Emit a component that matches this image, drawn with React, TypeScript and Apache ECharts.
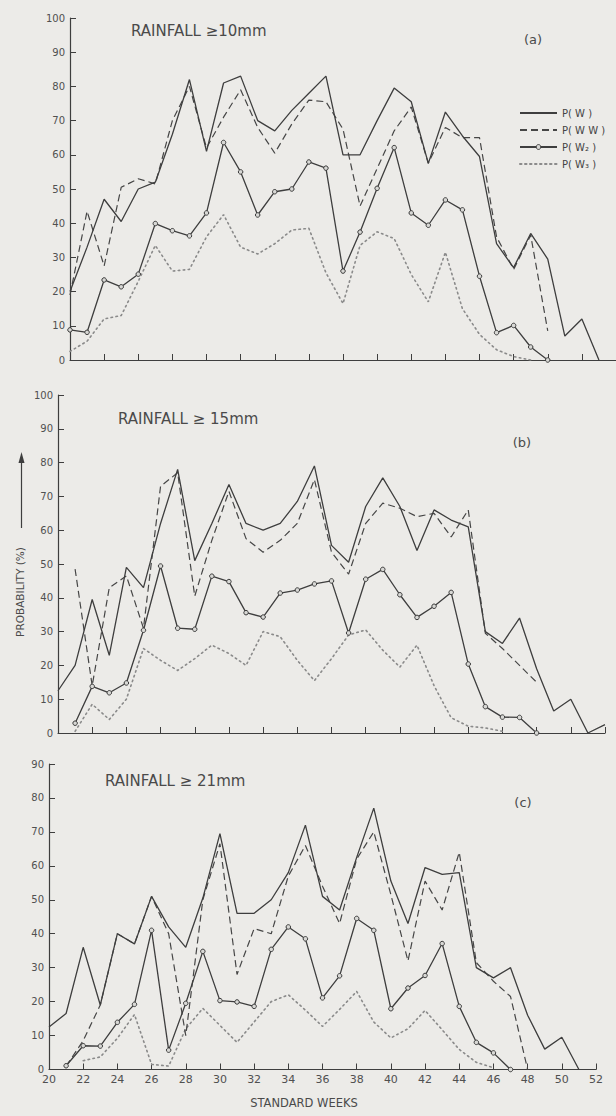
import React, { useEffect, useRef } from "react";
import * as echarts from "echarts";

// Standard weeks (x values)
const WEEKS = [20, 21, 22, 23, 24, 25, 26, 27, 28, 29, 30, 31, 32, 33, 34, 35, 36, 37, 38, 39, 40, 41, 42, 43, 44, 45, 46, 47, 48, 49, 50, 51, 52];

const SERIES_NAMES = ["P( W )", "P( W W )", "P( W\u2082 )", "P( W\u2083 )"];
const PANEL_TITLES = ["RAINFALL \u226510mm", "RAINFALL \u2265 15mm", "RAINFALL \u2265 21mm"];
const PANEL_TAGS = ["(a)", "(b)", "(c)"];
const Y_MAX = [100, 100, 90];

// (a) Rainfall >= 10 mm
const A_PW = [20, 33, 47, 40.5, 50, 52, 66, 82, 61, 81, 83, 70, 67, 73, 78, 83, 60, 60, 70, 79.5, 75.5, 57.5, 72.5, 65.5, 59.5, 34, 27, 37, 29.5, 7, 12, 0, null];
const A_PWW = [19, 43.5, 27.5, 50.5, 53, 51.5, 70, 80, 62, 71, 79, 68, 60.5, 69, 76, 75.5, 67.5, 45, 56, 67, 74, 57.5, 68, 65, 65, 36, 26.5, 36.5, 8.5, null, null, null, null];
const A_PW2 = [8.8, 8.1, 23.4, 21.4, 25.1, 39.9, 37.8, 36.3, 43, 63.6, 55, 42.4, 49.2, 50, 57.9, 56.1, 26, 37.4, 50.2, 62.1, 43, 39.4, 46.8, 43.9, 24.5, 8, 10.1, 3.8, 0, null, null, null, null];
const A_PW3 = [2.5, 5.5, 12, 13, 23, 33.5, 26, 26.5, 36, 42.5, 33, 31, 34, 38, 38.5, 25.5, 16.5, 33.5, 37.5, 35.5, 25, 17, 31.5, 15, 7.5, 3, 1, 0, null, null, null, null, null];

// (b) Rainfall >= 15 mm
const B_PW = [12.5, 20, 39.5, 23, 49, 43, 62, 78, 51, 62, 73.5, 62, 60, 62, 68.5, 79, 55.5, 50.5, 67, 75.5, 67, 54, 66, 63, 61, 30, 26.5, 34, 19, 6.5, 10, 0, 2.5];
const B_PWW = [null, 48.5, 14, 43, 46.5, 31, 73, 77, 40.5, 57, 71.5, 57.5, 53.5, 57, 62, 75, 53.5, 47, 62, 68, 66.5, 64, 65, 58, 66, 29.5, 25, 20, 15, null, null, null, null];
const B_PW2 = [null, 2.9, 13.8, 11.9, 14.8, 30.4, 49.4, 31, 30.7, 46.4, 44.8, 35.6, 34.3, 41.4, 42.3, 44.1, 45, 29.6, 45.5, 48.4, 40.9, 34.2, 37.5, 41.6, 20.4, 7.8, 4.7, 4.6, 0, null, null, null, null];
const B_PW3 = [null, 0.5, 8.5, 4, 10, 25, 21.5, 18.5, 22, 26, 23.5, 20, 30, 28.5, 21.5, 15.5, 22, 29, 30.5, 24.5, 19.5, 26, 14, 4.5, 2, 1.5, 0.5, null, null, null, null, null, null];

// (c) Rainfall >= 21 mm
const C_PW = [12.5, 16.5, 36, 19, 40, 37, 51, 42, 36, 50.5, 69.5, 46, 46, 50, 58, 72, 51, 47, 62.5, 77, 55.5, 43, 59.5, 57.5, 58, 30, 27, 30, 16, 6, 9.5, 0, null];
const C_PWW = [null, 1, 8.5, 19, 40, 37, 51, 40, 10, 50, 66.5, 28, 41.5, 40, 57, 66, 54, 43, 62, 70, 51.5, 32, 55.5, 47, 64, 31.5, 26, 21.5, 0, null, null, null, null];
const C_PW2 = [null, 1.1, 7, 6.9, 13.9, 19.2, 41, 5.7, 19.5, 34.8, 20.3, 19.9, 18.6, 35.4, 42, 38.5, 21.1, 27.6, 44.5, 41, 17.9, 24, 27.7, 37.1, 18.6, 8, 4.9, 0, null, null, null, null, null];
const C_PW3 = [null, null, 2.6, 3.7, 9.2, 16.2, 1.5, 1, 12, 18, 13, 8, 14, 20, 22, 17.5, 12.7, 17.7, 23, 14, 9.3, 12, 17.4, 11.7, 5.9, 2.1, 0.5, null, null, null, null, null, null];

const PANELS = [
  [A_PW, A_PWW, A_PW2, A_PW3],
  [B_PW, B_PWW, B_PW2, B_PW3],
  [C_PW, C_PWW, C_PW2, C_PW3],
];

const toPairs = (vals: (number | null)[]) =>
  WEEKS.map((w, i) => [w, vals[i]]).filter((p) => p[1] !== null);

const INK = "#3e3e3e";
const TXT = "#505050";
const BG = "#ecebe8";
const FONT = "DejaVu Sans";

export default function App() {
  const ref = useRef<HTMLDivElement>(null);

  useEffect(() => {
    if (!ref.current) return;
    const chart = echarts.init(ref.current, null, { renderer: "svg" });

    const grids = [
      { left: 70, top: 18, width: 549, height: 342 },
      { left: 58, top: 395, width: 547, height: 338 },
      { left: 49, top: 764, width: 547, height: 305.5 },
    ];

    const seriesStyles: any[] = [
      { symbol: "none", lineStyle: { color: INK, width: 1.3, type: "solid" }, itemStyle: { color: INK }, z: 4 },
      { symbol: "none", lineStyle: { color: "#464646", width: 1.2, type: [7, 4] }, itemStyle: { color: "#464646" }, z: 3 },
      {
        symbol: "circle",
        symbolSize: 4.5,
        lineStyle: { color: INK, width: 1.3, type: "solid" },
        itemStyle: { color: "#d8d8d5", borderColor: "#3a3a3a", borderWidth: 1 },
        z: 5,
      },
      { symbol: "none", lineStyle: { color: "#8a8a8a", width: 1.6, type: [1.5, 3.5], cap: "round" }, itemStyle: { color: "#8a8a8a" }, z: 2 },
    ];

    const series: any[] = [];
    PANELS.forEach((panel, g) => {
      panel.forEach((vals, s) => {
        series.push({
          type: "line",
          name: SERIES_NAMES[s],
          xAxisIndex: g,
          yAxisIndex: g,
          data: toPairs(vals),
          showSymbol: s === 2,
          connectNulls: false,
          emphasis: { disabled: true },
          silent: true,
          ...seriesStyles[s],
        });
      });
    });

    const xAxes = grids.map((_, g) => ({
      type: "value",
      gridIndex: g,
      min: 20,
      max: 52,
      interval: 2,
      axisLine: { show: true, onZero: false, lineStyle: { color: INK, width: 1.2 } },
      axisTick: { show: true, inside: true, length: 6, lineStyle: { color: INK, width: 1 } },
      axisLabel: {
        show: g === 2,
        color: TXT,
        fontSize: 11,
        fontFamily: FONT,
        margin: 4,
      },
      splitLine: { show: false },
    }));

    const yAxes = grids.map((_, g) => ({
      type: "value",
      gridIndex: g,
      min: 0,
      max: Y_MAX[g],
      interval: 10,
      axisLine: { show: true, lineStyle: { color: INK, width: 1.2 } },
      axisTick: { show: true, inside: true, length: 6, lineStyle: { color: INK, width: 1 } },
      axisLabel: { color: TXT, fontSize: 10, fontFamily: FONT, margin: 5 },
      splitLine: { show: false },
    }));

    const titlePos = [
      { x: 131, y: 31 },
      { x: 118, y: 419 },
      { x: 105, y: 781 },
    ];
    const tagPos = [
      { x: 533, y: 39 },
      { x: 522, y: 442 },
      { x: 523, y: 802 },
    ];

    const graphic: any[] = [];
    PANEL_TITLES.forEach((t, i) => {
      graphic.push({
        type: "text",
        x: titlePos[i].x,
        y: titlePos[i].y,
        silent: true,
        style: {
          text: t,
          fill: "#4a4a4a",
          fontSize: 15,
          fontFamily: FONT,
          textAlign: "left",
          textVerticalAlign: "middle",
        },
      });
    });
    PANEL_TAGS.forEach((t, i) => {
      graphic.push({
        type: "text",
        x: tagPos[i].x,
        y: tagPos[i].y,
        silent: true,
        style: {
          text: t,
          fill: "#4a4a4a",
          fontSize: 13,
          fontFamily: FONT,
          textAlign: "center",
          textVerticalAlign: "middle",
        },
      });
    });
    // vertical axis name with arrow
    graphic.push({
      type: "text",
      x: 20,
      y: 592,
      rotation: Math.PI / 2,
      silent: true,
      style: {
        text: "PROBABILITY (%)",
        fill: "#4a4a4a",
        fontSize: 10.5,
        fontFamily: FONT,
        textAlign: "center",
        textVerticalAlign: "middle",
      },
    });
    graphic.push({
      type: "line",
      silent: true,
      shape: { x1: 21.5, y1: 528, x2: 21.5, y2: 460 },
      style: { stroke: INK, lineWidth: 1.2 },
    });
    graphic.push({
      type: "polygon",
      silent: true,
      shape: { points: [[21.5, 452], [18.5, 463], [24.5, 463]] },
      style: { fill: INK },
    });
    graphic.push({
      type: "text",
      x: 304,
      y: 1103,
      silent: true,
      style: {
        text: "STANDARD WEEKS",
        fill: "#4a4a4a",
        fontSize: 11.5,
        fontFamily: FONT,
        textAlign: "center",
        textVerticalAlign: "middle",
      },
    });

    const hidden = { opacity: 0 };
    const option: any = {
      animation: false,
      backgroundColor: BG,
      textStyle: { fontFamily: FONT },
      grid: grids,
      xAxis: xAxes,
      yAxis: yAxes,
      legend: {
        orient: "vertical",
        left: 514,
        top: 102,
        itemWidth: 37,
        itemHeight: 6,
        itemGap: 5,
        selectedMode: false,
        data: [
          { name: SERIES_NAMES[0], itemStyle: hidden },
          { name: SERIES_NAMES[1], itemStyle: hidden },
          { name: SERIES_NAMES[2], itemStyle: { color: "#d8d8d5", borderColor: "#3a3a3a", borderWidth: 1 } },
          { name: SERIES_NAMES[3], itemStyle: hidden },
        ],
        textStyle: { fontSize: 10, color: "#444", fontFamily: FONT, lineHeight: 12 },
      },
      graphic,
      series,
    };

    chart.setOption(option);
    return () => chart.dispose();
  }, []);

  return (
    <div
      ref={ref}
      style={{ position: "absolute", left: 0, top: 0, width: 616, height: 1116, background: BG }}
    />
  );
}
